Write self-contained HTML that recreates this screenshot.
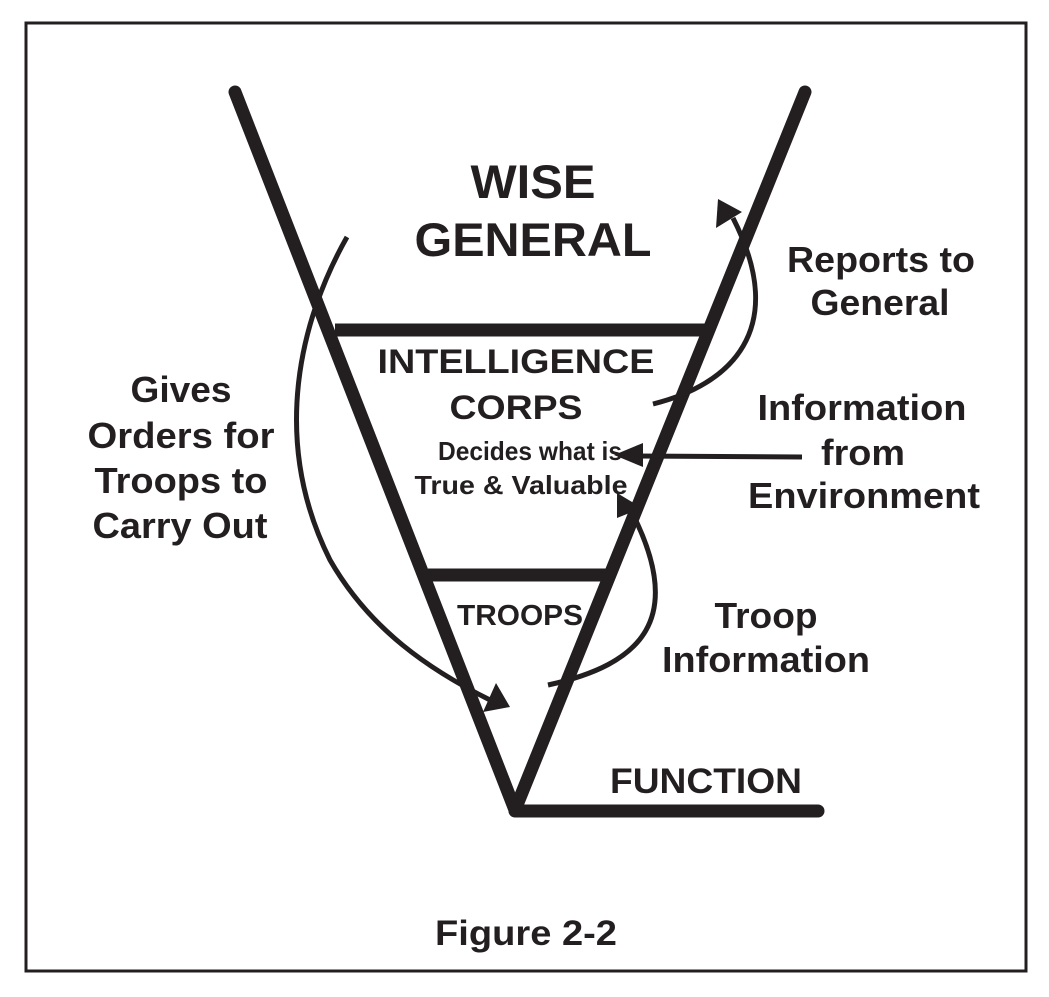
<!DOCTYPE html>
<html><head><meta charset="utf-8"><style>
html,body{margin:0;padding:0;background:#fff;}
svg{display:block;}
text{font-family:"Liberation Sans",Arial,sans-serif;font-weight:bold;fill:#231f20;text-anchor:middle;}
</style></head><body>
<svg width="1049" height="997" viewBox="0 0 1049 997" xmlns="http://www.w3.org/2000/svg">
<rect x="0" y="0" width="1049" height="997" fill="#fff"/>
<rect x="26" y="23" width="1000" height="948" fill="none" stroke="#231f20" stroke-width="3"/>
<g stroke="#231f20" stroke-linecap="round" fill="none">
<path d="M235 92 L515 810 L805 92" stroke-width="13" stroke-linejoin="round"/>
<line x1="515" y1="811" x2="818" y2="811" stroke-width="13"/>
<line x1="335" y1="330" x2="712" y2="330" stroke-width="13" stroke-linecap="butt"/>
<line x1="428" y1="575" x2="612" y2="575" stroke-width="13" stroke-linecap="butt"/>
</g>
<g stroke="#231f20" stroke-width="5" fill="none">
<path d="M347 237 C 300 320, 270 440, 330 560 C 370 630, 430 670, 490 700"/>
<path d="M653 404 C 730 385, 790 330, 733 218"/>
<path d="M548 685 C 640 665, 690 620, 628 505"/>
<line x1="802" y1="457" x2="632" y2="456"/>
</g>
<g fill="#231f20">
<polygon points="510,707 483,712 496,683"/>
<polygon points="718,199 742,212 716,228"/>
<polygon points="617,493 642,508 617,518"/>
<polygon points="614,455 643,443 643,467"/>
</g>
<g lengthAdjust="spacingAndGlyphs">
<text x="533" y="198" font-size="47" textLength="125" lengthAdjust="spacingAndGlyphs">WISE</text>
<text x="533" y="256" font-size="47" textLength="237" lengthAdjust="spacingAndGlyphs">GENERAL</text>
<text x="516" y="373" font-size="34" textLength="277" lengthAdjust="spacingAndGlyphs">INTELLIGENCE</text>
<text x="516" y="419" font-size="34" textLength="133" lengthAdjust="spacingAndGlyphs">CORPS</text>
<text x="530" y="460" font-size="26" textLength="184" lengthAdjust="spacingAndGlyphs">Decides what is</text>
<text x="521" y="494" font-size="26" textLength="213" lengthAdjust="spacingAndGlyphs">True &amp; Valuable</text>
<text x="520" y="625" font-size="29" textLength="126" lengthAdjust="spacingAndGlyphs">TROOPS</text>
<text x="881" y="272" font-size="36" textLength="188" lengthAdjust="spacingAndGlyphs">Reports to</text>
<text x="880" y="315" font-size="36" textLength="139" lengthAdjust="spacingAndGlyphs">General</text>
<text x="862" y="420" font-size="36" textLength="209" lengthAdjust="spacingAndGlyphs">Information</text>
<text x="863" y="465" font-size="36" textLength="84" lengthAdjust="spacingAndGlyphs">from</text>
<text x="864" y="508" font-size="36" textLength="232" lengthAdjust="spacingAndGlyphs">Environment</text>
<text x="766" y="628" font-size="36" textLength="103" lengthAdjust="spacingAndGlyphs">Troop</text>
<text x="766" y="672" font-size="36" textLength="208" lengthAdjust="spacingAndGlyphs">Information</text>
<text x="181" y="402" font-size="36" textLength="101" lengthAdjust="spacingAndGlyphs">Gives</text>
<text x="181" y="448" font-size="36" textLength="187" lengthAdjust="spacingAndGlyphs">Orders for</text>
<text x="181" y="493" font-size="36" textLength="173" lengthAdjust="spacingAndGlyphs">Troops to</text>
<text x="180" y="538" font-size="36" textLength="175" lengthAdjust="spacingAndGlyphs">Carry Out</text>
<text x="706" y="793" font-size="35" textLength="192" lengthAdjust="spacingAndGlyphs">FUNCTION</text>
<text x="526" y="945" font-size="35" textLength="182" lengthAdjust="spacingAndGlyphs">Figure 2-2</text>
</g>
</svg>
</body></html>
